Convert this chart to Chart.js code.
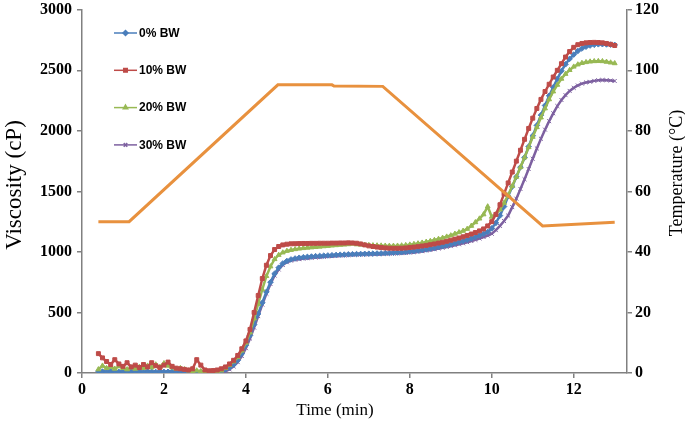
<!DOCTYPE html>
<html>
<head>
<meta charset="utf-8">
<script src="https://cdn.jsdelivr.net/npm/chart.js@4.4.1/dist/chart.umd.min.js"></script>
<style>
  html, body { margin: 0; padding: 0; background: #fff; }
  #visc { display: block; }
</style>
</head>
<body>
<canvas id="visc" width="685" height="432"></canvas>
<script>
// sampling times (min) for the viscosity traces
var times = [
  0.4, 0.5, 0.6, 0.7, 0.8, 0.9, 1.0, 1.1, 1.2, 1.3,
  1.4, 1.5, 1.6, 1.7, 1.8, 1.9, 2.0, 2.1, 2.2, 2.3,
  2.4, 2.5, 2.6, 2.7, 2.8, 2.9, 3.0, 3.1, 3.2, 3.3,
  3.4, 3.5, 3.6, 3.7, 3.8, 3.9, 4.0, 4.1, 4.2, 4.3,
  4.4, 4.5, 4.6, 4.7, 4.8, 4.9, 5.0, 5.1, 5.2, 5.3,
  5.4, 5.5, 5.6, 5.7, 5.8, 5.9, 6.0, 6.1, 6.2, 6.3,
  6.4, 6.5, 6.6, 6.7, 6.8, 6.9, 7.0, 7.1, 7.2, 7.3,
  7.4, 7.5, 7.6, 7.7, 7.8, 7.9, 8.0, 8.1, 8.2, 8.3,
  8.4, 8.5, 8.6, 8.7, 8.8, 8.9, 9.0, 9.1, 9.2, 9.3,
  9.4, 9.5, 9.6, 9.7, 9.8, 9.9, 10.0, 10.1, 10.2, 10.3,
  10.4, 10.5, 10.6, 10.7, 10.8, 10.9, 11.0, 11.1, 11.2, 11.3,
  11.4, 11.5, 11.6, 11.7, 11.8, 11.9, 12.0, 12.1, 12.2, 12.3,
  12.4, 12.5, 12.6, 12.7, 12.8, 12.9, 13.0
];

// viscosity (cP)
var visc0 = [
  15, 12, 10, 14, 11, 9, 12, 10, 13, 10,
  11, 9, 12, 10, 8, 11, 9, 10, 12, 9,
  10, 8, 9, 11, 8, 10, 9, 11, 13, 16,
  20, 30, 45, 70, 105, 160, 230, 310, 400, 490,
  580, 670, 750, 820, 870, 905, 925, 938, 946, 952,
  956, 959, 962, 965, 967, 969, 971, 973, 975, 977,
  978, 980, 981, 982, 983, 984, 985, 986, 987, 988,
  990, 991, 993, 995, 997, 1000, 1003, 1007, 1011, 1016,
  1021, 1027, 1033, 1040, 1047, 1055, 1063, 1072, 1081, 1090,
  1100, 1111, 1123, 1136, 1150, 1165, 1195, 1240, 1300, 1375,
  1460, 1540, 1620, 1700, 1780, 1870, 1960, 2045, 2130, 2210,
  2290, 2360, 2430, 2495, 2550, 2595, 2630, 2660, 2680, 2695,
  2705, 2711, 2715, 2716, 2714, 2712, 2710
];
var visc10 = [
  160, 125, 95, 70, 110, 75, 55, 85, 50, 65,
  45, 70, 50, 85, 60, 45, 65, 90, 55, 40,
  35, 30, 25, 35, 110, 65, 25, 18, 20, 25,
  35, 50, 75, 105, 145, 200, 265, 360, 500, 640,
  780, 890, 970, 1020, 1045, 1058, 1064, 1067, 1068, 1069,
  1070, 1070, 1071, 1071, 1072, 1072, 1072, 1073, 1073, 1074,
  1074, 1075, 1074, 1072, 1066, 1058, 1050, 1045, 1040, 1036,
  1033, 1031, 1030, 1030, 1031, 1033, 1036, 1040, 1044, 1049,
  1054, 1060, 1066, 1073, 1080, 1088, 1097, 1106, 1115, 1125,
  1136, 1148, 1160, 1174, 1190, 1215, 1250, 1310, 1390, 1480,
  1570, 1660, 1750, 1840, 1930, 2020, 2105, 2185, 2260, 2325,
  2385, 2445, 2500, 2555, 2610, 2655, 2690, 2712, 2722, 2727,
  2730, 2731, 2730, 2727, 2722, 2715, 2705
];
var visc20 = [
  30, 60, 40, 50, 35, 55, 40, 30, 45, 35,
  50, 40, 60, 45, 70, 50, 80, 60, 45, 35,
  40, 30, 20, 15, 20, 15, 12, 10, 12, 15,
  20, 40, 65, 95, 130, 185, 250, 335, 450, 570,
  690, 800, 880, 940, 975, 995, 1008, 1016, 1022, 1027,
  1031, 1034, 1037, 1040, 1043, 1046, 1049, 1052, 1055, 1058,
  1060, 1063, 1068, 1062, 1060, 1058, 1056, 1054, 1053, 1052,
  1051, 1050, 1050, 1051, 1053, 1056, 1060, 1065, 1070, 1076,
  1083, 1090, 1098, 1107, 1116, 1126, 1136, 1150, 1162, 1174,
  1190, 1215, 1245, 1275, 1310, 1375, 1290, 1310, 1350, 1405,
  1470, 1545, 1620, 1700, 1780, 1865, 1950, 2030, 2110, 2185,
  2260, 2325, 2380, 2430, 2470, 2502, 2530, 2548, 2560, 2567,
  2572, 2575, 2576, 2575, 2570, 2564, 2558
];
var visc30 = [
  5, 6, 4, 5, 6, 4, 5, 4, 6, 5,
  4, 5, 6, 4, 5, 5, 4, 6, 5, 4,
  5, 4, 5, 6, 5, 4, 5, 6, 8, 10,
  12, 15, 30, 55, 90, 140, 205, 285, 375, 470,
  565, 655, 735, 805, 855, 892, 915, 928, 936, 941,
  945, 948, 951, 954, 957, 960, 963, 966, 968, 970,
  972, 974, 976, 978, 979, 980, 981, 982, 983, 984,
  985, 986, 987, 988, 990, 992, 995, 998, 1002, 1006,
  1011, 1016, 1022, 1028, 1034, 1041, 1048, 1055, 1063, 1071,
  1080, 1090, 1100, 1111, 1123, 1136, 1150, 1180, 1215, 1255,
  1300, 1370, 1440, 1520, 1600, 1685, 1770, 1855, 1935, 2010,
  2080, 2145, 2205, 2255, 2295, 2330, 2355, 2375, 2390, 2400,
  2405, 2413, 2418, 2420, 2419, 2416, 2412
];

// temperature profile (°C)
var tempTimes = [0.4, 1.15, 4.78, 6.1, 6.15, 7.34, 11.24, 13.0];
var tempValues = [50, 50, 95.2, 95.2, 94.8, 94.7, 48.6, 49.8];

var seriesNames = ['0% BW', '10% BW', '20% BW', '30% BW'];
var seriesValues = [visc0, visc10, visc20, visc30];
var seriesColors = ['#4A7EBB', '#BE4B48', '#98B954', '#7D60A0'];
var seriesMarkers = ['rectRot', 'rect', 'triangle', 'crossRot'];
var seriesOrder = [3, 1, 2, 4];

var serif = '"Liberation Serif", "Times New Roman", serif';
var axisGrey = '#808080';

function pairs(xs, ys) {
  return xs.map(function (x, i) { return { x: x, y: ys[i] }; });
}

var datasets = [{
  label: 'Temperature',
  data: pairs(tempTimes, tempValues),
  yAxisID: 'y1',
  borderColor: '#E8913E',
  borderWidth: 3,
  pointRadius: 0,
  order: 0
}];
seriesNames.forEach(function (name, i) {
  datasets.push({
    label: name,
    data: pairs(times, seriesValues[i]),
    yAxisID: 'y',
    borderColor: seriesColors[i],
    backgroundColor: seriesColors[i],
    borderWidth: 2.5,
    pointStyle: seriesMarkers[i],
    pointRadius: 2.8,
    pointBorderWidth: 1,
    order: seriesOrder[i]
  });
});

// legend inside the plot + axis titles (right one reads bottom-to-top)
var decorations = {
  id: 'decorations',
  afterDraw: function (chart) {
    var ctx = chart.ctx;
    ctx.save();
    chart.data.datasets.forEach(function (ds) {
      if (ds.yAxisID !== 'y') return;
      var k = seriesNames.indexOf(ds.label);
      var y = 33 + k * 37.3;
      ctx.strokeStyle = ds.borderColor;
      ctx.fillStyle = ds.borderColor;
      ctx.lineWidth = 1.5;
      ctx.beginPath();
      ctx.moveTo(114, y);
      ctx.lineTo(137, y);
      ctx.stroke();
      Chart.helpers.drawPoint(ctx, { pointStyle: ds.pointStyle, radius: 2.5, borderWidth: 1, rotation: 0 }, 125.5, y);
      ctx.fillStyle = '#000';
      ctx.font = 'bold 12px "Liberation Sans", Arial, sans-serif';
      ctx.textAlign = 'left';
      ctx.textBaseline = 'middle';
      ctx.fillText(ds.label, 139, y + 0.5);
    });

    ctx.fillStyle = '#000';
    ctx.textAlign = 'center';
    ctx.textBaseline = 'middle';
    ctx.font = '17px ' + serif;
    ctx.fillText('Time (min)', 335, 411);

    ctx.font = '23px ' + serif;
    ctx.translate(15, 185);
    ctx.rotate(-Math.PI / 2);
    ctx.fillText('Viscosity (cP)', 0, 0);
    ctx.setTransform(1, 0, 0, 1, 0, 0);

    ctx.font = '18px ' + serif;
    ctx.translate(677, 173);
    ctx.rotate(-Math.PI / 2);
    ctx.fillText('Temperature (\u00B0C)', 0, 0);
    ctx.restore();
  }
};

function axisStyle(extra) {
  var base = {
    grid: { display: true, drawOnChartArea: false, drawTicks: true, tickLength: 5, color: axisGrey, lineWidth: 1.5 },
    border: { display: true, color: axisGrey, width: 1.5 },
    title: { display: false }
  };
  return Object.assign(base, extra);
}

var tickFont = { family: serif, weight: 'bold', size: 16, lineHeight: 1 };
var sideTickFont = { family: serif, weight: 'bold', size: 16, lineHeight: 0.6 };
function plainNumber(v) { return String(v); }

new Chart(document.getElementById('visc'), {
  type: 'line',
  data: { datasets: datasets },
  plugins: [decorations],
  options: {
    responsive: false,
    animation: false,
    layout: { padding: { top: 8, left: 0, right: 0, bottom: 0 } },
    plugins: { legend: { display: false }, tooltip: { enabled: false } },
    elements: { line: { tension: 0 } },
    scales: {
      x: axisStyle({
        type: 'linear',
        min: 0,
        max: 13.3,
        ticks: { stepSize: 2, includeBounds: false, color: '#000', font: tickFont, padding: 4, maxRotation: 0, callback: plainNumber },
        afterFit: function (s) { s.height = 59; }
      }),
      y: axisStyle({
        position: 'left',
        min: 0,
        max: 3000,
        ticks: { stepSize: 500, color: '#000', font: sideTickFont, padding: 5, callback: plainNumber },
        afterFit: function (s) { s.width = 82; }
      }),
      y1: axisStyle({
        position: 'right',
        min: 0,
        max: 120,
        ticks: { stepSize: 20, color: '#000', font: sideTickFont, padding: 3, callback: plainNumber },
        afterFit: function (s) { s.width = 58; }
      })
    }
  }
});
</script>
</body>
</html>
